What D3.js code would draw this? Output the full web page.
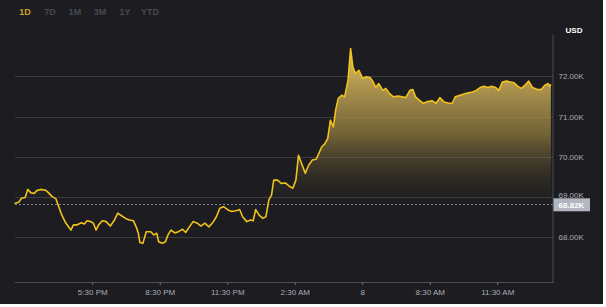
<!DOCTYPE html>
<html>
<head>
<meta charset="utf-8">
<script src="https://cdn.jsdelivr.net/npm/d3@7"></script>
<style>
  html, body { margin: 0; padding: 0; background: #ffffff; }
  svg { display: block; }
</style>
</head>
<body>
<svg id="chart" width="606" height="307"></svg>
<script>
// ---- data ----
const startTime = "2024-03-07T14:00:00";
const endTime = "2024-03-08T14:00:00";
const minutesFromStart = [3,15,21,31,38,46,55,62,72,86,93,103,113,119,129,139,153,160,170,181,189,196,206,213,220,227,237,247,258,268,278,289,299,309,320,327,333,337,345,354,366,374,382,387,397,405,412,420,430,440,451,459,469,479,490,500,510,521,531,541,550,560,572,582,593,603,611,622,632,639,646,655,665,673,681,688,694,704,714,725,735,745,753,760,768,778,787,797,807,814,822,830,838,845,853,859,866,876,883,892,899,905,912,921,931,941,951,959,966,974,985,993,1003,1013,1026,1036,1046,1057,1065,1072,1082,1093,1103,1117,1127,1137,1147,1160,1170,1178,1191,1201,1213,1224,1234,1244,1255,1265,1275,1286,1294,1304,1314,1325,1335,1345,1355,1364,1374,1384,1397,1407,1417,1426,1430,1433];
const priceK = [68.84,68.88,68.97,68.99,69.19,69.11,69.09,69.16,69.19,69.17,69.11,69.01,68.96,68.80,68.55,68.36,68.18,68.31,68.31,68.36,68.33,68.41,68.39,68.35,68.18,68.31,68.41,68.39,68.28,68.41,68.60,68.53,68.47,68.43,68.41,68.26,68.10,67.87,67.85,68.14,68.14,68.06,68.10,67.89,67.85,67.89,68.06,68.18,68.11,68.14,68.20,68.12,68.26,68.39,68.35,68.28,68.35,68.26,68.36,68.51,68.72,68.76,68.68,68.64,68.66,68.69,68.51,68.39,68.43,68.41,68.69,68.55,68.47,68.51,68.93,69.05,69.42,69.42,69.34,69.35,69.27,69.22,69.42,70.04,69.84,69.59,69.79,69.92,69.94,70.08,70.25,70.32,70.46,70.91,70.74,71.16,71.45,71.53,71.49,71.90,72.69,72.23,72.07,72.15,71.95,71.99,71.97,71.86,71.72,71.82,71.65,71.70,71.57,71.49,71.51,71.49,71.47,71.65,71.67,71.49,71.41,71.33,71.37,71.39,71.33,71.47,71.37,71.33,71.33,71.49,71.53,71.56,71.59,71.61,71.65,71.72,71.75,71.72,71.75,71.72,71.65,71.86,71.88,71.86,71.84,71.75,71.70,71.78,71.88,71.72,71.67,71.67,71.78,71.82,71.75,71.80];
const baselinePrice = 68.82;
const yTicks = [68, 69, 70, 71, 72];
const xTickTimes = ["2024-03-07T17:30:00","2024-03-07T20:30:00","2024-03-07T23:30:00","2024-03-08T02:30:00","2024-03-08T05:30:00","2024-03-08T08:30:00","2024-03-08T11:30:00"];
const xTickLabels = ["5:30 PM","8:30 PM","11:30 PM","2:30 AM","8","8:30 AM","11:30 AM"];
const rangeTabs = ["1D","7D","1M","3M","1Y","YTD"];
const currency = "USD";

// ---- layout ----
const W = 603, H = 304;
const plot = { left: 13.5, right: 553.5, top: 35, bottom: 283 };
const BG = "#1c1c21";
const GRID = "#393b42";
const GOLD = "#f0c21c";
const TEXT = "#a9adb6";
const FONT = "Liberation Sans, Arial, sans-serif";

const svg = d3.select("#chart");
svg.append("rect").attr("x", 0).attr("y", 0).attr("width", W).attr("height", H).attr("fill", BG);

const parse = d3.isoParse;
const t0 = parse(startTime);
const data = minutesFromStart.map((m, i) => ({ t: new Date(t0.getTime() + m * 60000), v: priceK[i] }));

const x = d3.scaleTime().domain([t0, parse(endTime)]).range([plot.left, plot.right]);
const y = d3.scaleLinear().domain([66.865, 73.026]).range([plot.bottom, plot.top]);

// defs
const defs = svg.append("defs");
const grad = defs.append("linearGradient").attr("id", "fillGrad")
  .attr("gradientUnits", "userSpaceOnUse")
  .attr("x1", 0).attr("x2", 0)
  .attr("y1", y(72.3)).attr("y2", y(baselinePrice));
grad.append("stop").attr("offset", 0).attr("stop-color", "#d8b85e").attr("stop-opacity", 0.95);
grad.append("stop").attr("offset", 0.5).attr("stop-color", "#a88e45").attr("stop-opacity", 0.62);
grad.append("stop").attr("offset", 1).attr("stop-color", "#3a3322").attr("stop-opacity", 0.05);
defs.append("clipPath").attr("id", "aboveBase").append("rect")
  .attr("x", plot.left).attr("y", 0)
  .attr("width", plot.right - plot.left).attr("height", y(baselinePrice));

// grid
svg.append("g").selectAll("line").data(yTicks).join("line")
  .attr("x1", 15).attr("x2", plot.right - 0.5)
  .attr("y1", d => Math.round(y(d)) + 0.5).attr("y2", d => Math.round(y(d)) + 0.5)
  .attr("stroke", GRID).attr("stroke-width", 1);

// area above baseline
const area = d3.area().x(d => x(d.t)).y0(y(baselinePrice)).y1(d => y(d.v)).curve(d3.curveLinear);
svg.append("path").datum(data).attr("d", area).attr("fill", "url(#fillGrad)").attr("clip-path", "url(#aboveBase)");

// baseline dashed
svg.append("line")
  .attr("x1", 15).attr("x2", plot.right - 0.5)
  .attr("y1", Math.round(y(baselinePrice)) + 0.5).attr("y2", Math.round(y(baselinePrice)) + 0.5)
  .attr("stroke", "#80848e").attr("stroke-width", 1).attr("stroke-dasharray", "2,2");

// line
const line = d3.line().x(d => x(d.t)).y(d => y(d.v)).curve(d3.curveLinear);
svg.append("path").datum(data).attr("d", line).attr("fill", "none")
  .attr("stroke", GOLD).attr("stroke-width", 1.6).attr("stroke-linejoin", "round");

// axes lines
svg.append("line").attr("x1", 15).attr("x2", plot.right).attr("y1", plot.bottom - 0.5).attr("y2", plot.bottom - 0.5)
  .attr("stroke", "#4a4d55").attr("stroke-width", 1);
svg.append("line").attr("x1", plot.right - 0.5).attr("x2", plot.right - 0.5).attr("y1", plot.top).attr("y2", plot.bottom)
  .attr("stroke", "#4a4d55").attr("stroke-width", 1);

// x axis
const xAxis = d3.axisBottom(x)
  .tickValues(xTickTimes.map(parse))
  .tickFormat((d, i) => xTickLabels[i])
  .tickSize(3).tickPadding(4);
const gx = svg.append("g").attr("transform", `translate(0,${plot.bottom - 1})`).call(xAxis);
gx.select(".domain").remove();
gx.selectAll(".tick line").attr("stroke", "#6a6e77");
gx.selectAll(".tick text").attr("fill", TEXT).attr("font-family", FONT).attr("font-size", 8);

// y axis
const yAxis = d3.axisRight(y).tickValues(yTicks).tickFormat(d => d.toFixed(2) + "K").tickSize(0).tickPadding(5);
const gy = svg.append("g").attr("transform", `translate(${plot.right},0)`).call(yAxis);
gy.select(".domain").remove();
gy.selectAll(".tick text").attr("fill", TEXT).attr("font-family", FONT).attr("font-size", 8);
// the 69.00K label sits just above the price tag, partially hidden, as in the reference
gy.selectAll(".tick").filter(d => d === 69).select("text").attr("dy", "0.1em");

// current price tag
const by = y(baselinePrice);
svg.append("rect").attr("x", plot.right).attr("y", by - 6).attr("width", 36.5).attr("height", 13).attr("fill", "#b3b6bf");
svg.append("text").attr("x", plot.right + 18).attr("y", by + 0.5).attr("dy", "0.35em").attr("text-anchor", "middle")
  .attr("fill", "#ffffff").attr("font-family", FONT).attr("font-size", 8).attr("font-weight", "bold")
  .text(baselinePrice.toFixed(2) + "K");

// currency label
svg.append("text").attr("x", 574).attr("y", 30).attr("dy", "0.35em").attr("text-anchor", "middle")
  .attr("fill", "#ffffff").attr("font-family", FONT).attr("font-size", 8).attr("font-weight", "bold")
  .text(currency);

// range tabs
const tabX = d3.scalePoint().domain(rangeTabs).range([25, 150]);
svg.append("g").selectAll("text").data(rangeTabs).join("text")
  .attr("x", d => tabX(d)).attr("y", 12).attr("dy", "0.35em").attr("text-anchor", "middle")
  .attr("font-family", FONT).attr("font-size", 9).attr("font-weight", "bold")
  .attr("fill", (d, i) => i === 0 ? "#c9a227" : "#474a52")
  .text(d => d);
</script>
</body>
</html>
